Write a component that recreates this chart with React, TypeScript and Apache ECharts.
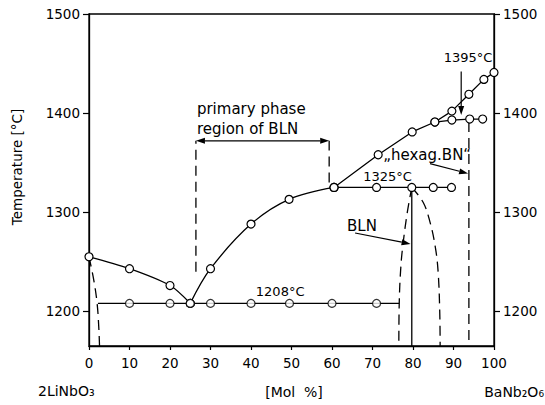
import React, { useEffect, useRef } from "react";
import * as echarts from "echarts";

// ---- data (mol % BaNb2O6, temperature °C) ----
const yTickValues = [1200, 1300, 1400, 1500];

const liquidusLi = [[0, 1255], [10, 1243], [20, 1226], [25, 1208]];
const liquidusBLN = [[25, 1208], [30, 1243], [40, 1288], [49.4, 1313], [60.5, 1325]];
const liquidusBa = [[60.5, 1325], [71.4, 1358], [79.8, 1381], [85.4, 1391], [89.6, 1402], [93.8, 1419], [97.5, 1434], [100, 1441]];
const eutecticLine = [[2.2, 1208], [76.6, 1208]];
const eutecticPts = [[10, 1208], [20, 1208], [25, 1208], [30, 1208], [40, 1208], [49.5, 1208], [60, 1208], [71, 1208]];
const peritecticPts = [[60.5, 1325], [71, 1325], [79.7, 1325], [85, 1325], [89.5, 1325]];
const hexagPts = [[85.4, 1391], [89.6, 1393], [94, 1394], [97.2, 1394]];
const liSolvus = [[0, 1255], [1.2, 1231], [2, 1208], [2.4, 1185], [2.6, 1165]];
const blnLeft = [[79.7, 1325], [78.6, 1300], [77.6, 1270], [77, 1245], [76.6, 1208], [76.5, 1165]];
const blnRight = [[79.7, 1325], [82.5, 1310], [84.2, 1290], [85.5, 1265], [86.2, 1240], [86.6, 1200], [86.7, 1165]];
const blnCongruent = [[79.7, 1325], [79.7, 1165]];
const hexagBoundary = [[93.8, 1391], [93.8, 1165]];
const primaryLeft = [[26.4, 1240], [26.4, 1372]];
const primaryRight = [[59.3, 1330], [59.3, 1372]];

const FONT = '"DejaVu Sans", sans-serif';
const LW = 1.3;

function solid(data: number[][], smooth: number | boolean = false, marks = false): any {
  return {
    type: "line",
    data,
    smooth,
    symbol: marks ? "circle" : "none",
    showSymbol: marks,
    symbolSize: 8,
    itemStyle: { color: "#fff", borderColor: "#000", borderWidth: 1.2 },
    lineStyle: { color: "#000", width: LW },
    z: marks ? 5 : 3,
    silent: true,
  };
}
function dashed(data: number[][], smooth: number | boolean = false): any {
  return {
    type: "line",
    data,
    smooth,
    symbol: "none",
    lineStyle: { color: "#000", width: LW, type: [10, 6] },
    z: 2,
    silent: true,
  };
}
function points(data: number[][]): any {
  return {
    type: "scatter",
    data,
    symbol: "circle",
    symbolSize: 8,
    itemStyle: { color: "#fff", borderColor: "#000", borderWidth: 1.2 },
    z: 6,
    silent: true,
  };
}

function arrowEls(p1: number[], p2: number[], both = false) {
  const dx = p2[0] - p1[0], dy = p2[1] - p1[1];
  const len = Math.sqrt(dx * dx + dy * dy) || 1;
  const ux = dx / len, uy = dy / len;
  const nx = -uy, ny = ux;
  const head = 9, half = 3;
  const els: any[] = [];
  const s = both ? [p1[0] + ux * head, p1[1] + uy * head] : p1;
  const e = [p2[0] - ux * head, p2[1] - uy * head];
  els.push({ type: "line", silent: true, shape: { x1: s[0], y1: s[1], x2: e[0], y2: e[1] }, style: { stroke: "#000", lineWidth: 1.2 } });
  els.push({ type: "polygon", silent: true, shape: { points: [[p2[0], p2[1]], [e[0] + nx * half, e[1] + ny * half], [e[0] - nx * half, e[1] - ny * half]] }, style: { fill: "#000" } });
  if (both) {
    const b = [p1[0] + ux * head, p1[1] + uy * head];
    els.push({ type: "polygon", silent: true, shape: { points: [[p1[0], p1[1]], [b[0] + nx * half, b[1] + ny * half], [b[0] - nx * half, b[1] - ny * half]] }, style: { fill: "#000" } });
  }
  return els;
}

function txt(text: string, x: number, y: number, size: number, align = "center", rotation = 0): any {
  return {
    type: "text",
    x,
    y,
    rotation,
    silent: true,
    style: {
      text,
      font: `${size}px ${FONT}`,
      fill: "#000",
      align,
      textAlign: align,
      verticalAlign: "middle",
      textVerticalAlign: "middle",
    },
  };
}

export default function App() {
  const ref = useRef<HTMLDivElement>(null);
  useEffect(() => {
    if (!ref.current) return;
    const chart = echarts.init(ref.current, null, { renderer: "svg" });
    const yAxisBase = (pos: "left" | "right") => ({
      type: "value",
      position: pos,
      min: 1165,
      max: 1500,
      axisLine: { show: true, lineStyle: { color: "#000", width: LW } },
      axisTick: { show: true, length: 6, inside: false, customValues: yTickValues, lineStyle: { color: "#000", width: 1.2 } },
      axisLabel: {
        show: true,
        customValues: yTickValues,
        formatter: (v: number) => String(v),
        color: "#000",
        fontSize: 13.5,
        fontFamily: FONT,
        margin: 9,
      },
      splitLine: { show: false },
    });
    chart.setOption({
      animation: false,
      backgroundColor: "#fff",
      grid: { left: 89, right: 51, top: 14, bottom: 59, show: true, borderColor: "#000", borderWidth: LW, backgroundColor: "transparent" },
      xAxis: {
        type: "value",
        min: 0,
        max: 100,
        interval: 10,
        axisLine: { show: true, lineStyle: { color: "#000", width: LW } },
        axisTick: { show: true, length: 4, lineStyle: { color: "#000", width: 1.2 } },
        axisLabel: { color: "#000", fontSize: 13.5, fontFamily: FONT, margin: 10, formatter: (v: number) => String(v) },
        splitLine: { show: false },
      },
      yAxis: [yAxisBase("left"), yAxisBase("right")],
      series: [
        solid(liquidusLi, 0.3, true),
        solid(liquidusBLN, 0.35, true),
        solid(liquidusBa, false, true),
        solid(eutecticLine),
        points(eutecticPts),
        solid(peritecticPts, false, true),
        solid(hexagPts, false, true),
        dashed(liSolvus, 0.4),
        dashed(blnLeft, 0.4),
        dashed(blnRight, 0.4),
        solid(blnCongruent),
        dashed(hexagBoundary),
        dashed(primaryLeft),
        dashed(primaryRight),
      ],
    });

    const P = (x: number, y: number) => chart.convertToPixel({ xAxisIndex: 0, yAxisIndex: 0 }, [x, y]) as number[];
    const g: any[] = [];
    // axis titles
    g.push(txt("Temperature [°C]", 17, 167, 13.5, "center", Math.PI / 2));
    g.push(txt("2LiNbO₃", 38, 391, 14, "left"));
    g.push(txt("[Mol  %]", 294, 392, 14, "center"));
    g.push(txt("BaNb₂O₆", 544, 392, 14, "right"));
    // primary phase region
    const pl = P(26.4, 1372), pr = P(59.3, 1372);
    g.push(...arrowEls(pl, pr, true));
    g.push(txt("primary phase", pl[0] + 1, pl[1] - 32, 15, "left"));
    g.push(txt("region of BLN", pl[0] + 1, pl[1] - 12, 15, "left"));
    // eutectic / peritectic labels
    const e = P(47.2, 1208);
    g.push(txt("1208°C", e[0], e[1] - 12, 13));
    const pk = P(73.7, 1325);
    g.push(txt("1325°C", pk[0], pk[1] - 11, 13));
    // BLN
    const bl = P(67.4, 1286);
    g.push(txt("BLN", bl[0], bl[1], 15));
    g.push(...arrowEls(P(65.7, 1279), P(79.4, 1268)));
    // hexag BN
    const hx = P(83.5, 1358);
    g.push(txt("„hexag.BN“", hx[0], hx[1], 15));
    g.push(...arrowEls(P(84.2, 1349), P(93.6, 1339)));
    // 1395
    const t = P(93.6, 1456);
    g.push(txt("1395°C", t[0], t[1], 13));
    g.push(...arrowEls(P(91.9, 1442), P(91.9, 1398)));

    chart.setOption({ graphic: { elements: g } });
    return () => chart.dispose();
  }, []);
  return <div ref={ref} style={{ position: "fixed", left: 0, top: 0, width: 545, height: 405, background: "#fff" }} />;
}
